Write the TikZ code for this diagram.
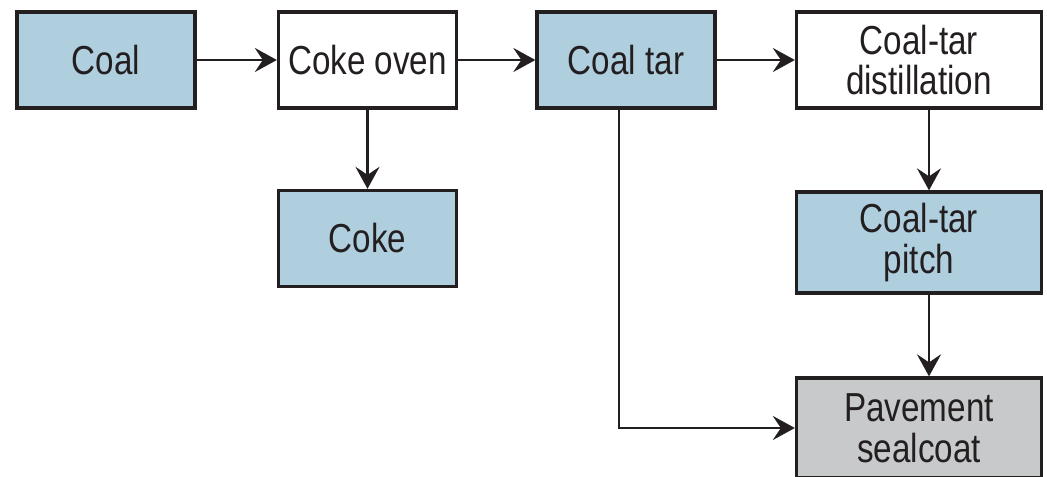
\documentclass[tikz,border=0pt]{standalone}
\usepackage{fontspec}
\setmainfont[FakeStretch=0.82]{Liberation Sans}
\usepackage{xcolor}
\usetikzlibrary{arrows.meta, positioning, calc}
\definecolor{coalblue}{RGB}{175, 207, 223}
\definecolor{sealgray}{RGB}{200, 201, 203}
\definecolor{inkdark}{RGB}{35, 31, 32}

\begin{document}
\begin{tikzpicture}[x=0.025cm, y=-0.025cm,
    box/.style={draw=inkdark, line width=2.3pt, minimum width=4.45cm, minimum height=2.4cm,
        align=center, inner sep=0pt, text=inkdark, font=\fontsize{28.8}{29}\selectfont},
    widebox/.style={box, minimum width=6.125cm},
    flow/.style={draw=inkdark, line width=2pt,
        -{Stealth[length=0.55cm, width=0.6cm, inset=0.2cm]}}]
    \clip (0,0) rectangle (1047,477);

    % Top row
    \node[box, fill=coalblue] (coal) at (106,60) {Coal};
    \node[box, fill=white] (oven) at (367.5,60) {Coke oven};
    \node[box, fill=coalblue] (tar) at (626,60) {Coal tar};
    \node[widebox, fill=white] (dist) at (919,60) {Coal-tar\\distillation};

    % Products
    \node[box, fill=coalblue] (coke) at (367.5,238.5) {Coke};
    \node[widebox, fill=coalblue, minimum height=2.525cm] (pitch) at (919,242.5) {Coal-tar\\pitch};
    \node[widebox, fill=sealgray, minimum height=2.5cm] (pave) at (919,428) {Pavement\\sealcoat};

    % Flows
    \draw[flow] (coal) -- (oven);
    \draw[flow] (oven) -- (tar);
    \draw[flow] (tar) -- (dist);
    \draw[flow] (oven) -- (coke);
    \draw[flow] ([xshift=0.25cm]dist.south) -- ([xshift=0.25cm]pitch.north);
    \draw[flow] ([xshift=0.25cm]pitch.south) -- ([xshift=0.25cm]pave.north);
    \draw[flow] ([xshift=-0.175cm]tar.south) |- (pave.west);
\end{tikzpicture}
\end{document}
